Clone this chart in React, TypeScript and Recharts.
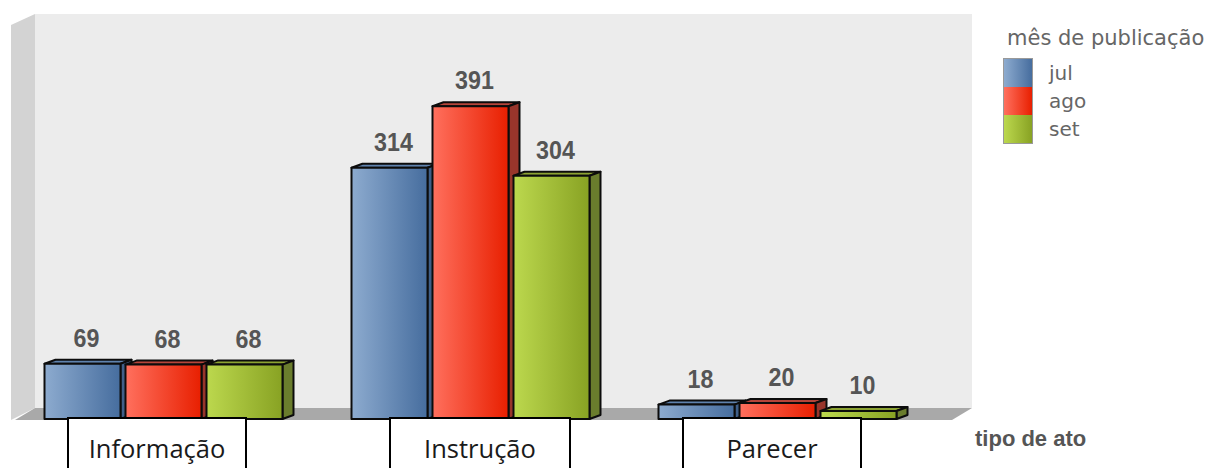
import { BarChart, Bar, XAxis, YAxis, LabelList, Legend } from 'recharts';

const categories = ['Informação', 'Instrução', 'Parecer'];
const jul = [69, 314, 18];
const ago = [68, 391, 20];
const set = [68, 304, 10];
const legendTitle = 'mês de publicação';
const axisTitle = 'tipo de ato';

const data = categories.map((name, i) => ({ name, jul: jul[i], ago: ago[i], set: set[i] }));

const colors: any = {
    jul: { light: '#8dabcf', dark: '#466d9e', side: '#3f5f88', top: '#5f82ad' },
    ago: { light: '#ff705e', dark: '#e81f00', side: '#98352b', top: '#b5453a' },
    set: { light: '#bcd84e', dark: '#88a223', side: '#6a7d2d', top: '#8ca332' },
};

// the boxes under the bars were pasted by hand, they are not centred on the groups
const tickBoxes: any = {
    'Informação': { dx: -6, width: 178 },
    'Instrução': { dx: 10, width: 180 },
    'Parecer': { dx: -5, width: 178 },
};

const DEPTH_X = 11;
const DEPTH_Y = 4;

const Bar3D = (props: any) => {
    const { x, y, width, height, dataKey } = props;
    const c = colors[dataKey];
    const r = x + width;
    const b = y + height;
    return (
        <g stroke="#0c0c0c" strokeWidth={2} strokeLinejoin="round">
            <polygon points={`${x},${y} ${x + DEPTH_X},${y - DEPTH_Y} ${r + DEPTH_X},${y - DEPTH_Y} ${r},${y}`} fill={c.top} />
            <polygon points={`${r},${y} ${r + DEPTH_X},${y - DEPTH_Y} ${r + DEPTH_X},${b - DEPTH_Y} ${r},${b}`} fill={c.side} />
            <rect x={x} y={y} width={width} height={height} fill={`url(#face-${dataKey})`} />
        </g>
    );
};

const BoxTick = ({ x, y, payload }: any) => {
    const box = tickBoxes[payload.value];
    const cx = x + box.dx;
    return (
        <g>
            <rect x={cx - box.width / 2} y={y - 1} width={box.width} height={70} fill="#fff" stroke="#000" strokeWidth={2} />
            <text x={cx} y={y + 39} textAnchor="middle" fontFamily="Open Sans" fontSize={25.5} fill="#1a1a1a">
                {payload.value}
            </text>
        </g>
    );
};

// narrow bold digits: no narrow font here, so squeeze the normal one
const ValueLabel = ({ x, y, width, value }: any) => (
    <text
        transform={`translate(${x + width / 2 + 4},${y - 17}) scale(0.93,1)`}
        textAnchor="middle"
        fontFamily="Liberation Sans"
        fontWeight="bold"
        fontSize={25}
        fill="#555"
    >
        {value}
    </text>
);

const LegendBox = ({ payload }: any) => (
    <div style={{ fontFamily: 'DejaVu Sans', fontSize: 20, color: '#666', width: 203 }}>
        <div style={{ marginLeft: 4, height: 33, lineHeight: '26px', fontSize: 21, whiteSpace: 'nowrap' }}>{legendTitle}</div>
        <div style={{ border: '1px solid #999', width: 28, boxSizing: 'content-box' }}>
            {(payload || []).map((p: any) => {
                const c = colors[p.dataKey];
                return (
                    <div key={p.dataKey} style={{ position: 'relative', height: 28, background: `linear-gradient(to right, ${c.light}, ${c.dark})` }}>
                        <span style={{ position: 'absolute', left: 45, top: 1, lineHeight: '26px' }}>{p.value}</span>
                    </div>
                );
            })}
        </div>
    </div>
);

export default function App() {
    return (
        <div style={{ position: 'absolute', left: 0, top: 0, width: 1206, height: 468, overflow: 'hidden', background: '#fff' }}>
            <svg width={1206} height={468} style={{ position: 'absolute', left: 0, top: 0 }}>
                <rect x={35} y={14} width={937} height={394} fill="#ececec" />
                <polygon points="11,25 35,14 35,408 11,420" fill="#d3d3d3" />
                <polygon points="35,408 972,408 952,420 15,420" fill="#a9a9a9" />
                <text x={975} y={446} fontFamily="Liberation Sans" fontWeight="bold" fontSize={22} fill="#555">
                    {axisTitle}
                </text>
            </svg>
            <div style={{ position: 'absolute', left: 0, top: 0 }}>
                <BarChart
                    width={1206}
                    height={468}
                    data={data}
                    margin={{ top: 99, right: 275.5, bottom: 0, left: 9.5 }}
                    barSize={76}
                    barGap={5}
                >
                    <defs>
                        {Object.keys(colors).map((k) => (
                            <linearGradient key={k} id={`face-${k}`} x1="0" y1="0" x2="1" y2="0">
                                <stop offset="0%" stopColor={colors[k].light} />
                                <stop offset="100%" stopColor={colors[k].dark} />
                            </linearGradient>
                        ))}
                    </defs>
                    <XAxis dataKey="name" axisLine={false} tickLine={false} height={49} tick={<BoxTick />} tickSize={0} tickMargin={0} interval={0} />
                    <YAxis hide domain={[0, 400]} />
                    <Legend
                        layout="vertical"
                        align="center"
                        verticalAlign="middle"
                        itemSorter={null}
                        content={<LegendBox />}
                        wrapperStyle={{ position: 'absolute', left: 1003, top: 25, width: 203 }}
                    />
                    {['jul', 'ago', 'set'].map((k) => (
                        <Bar key={k} dataKey={k} name={k} fill={colors[k].dark} shape={<Bar3D dataKey={k} />} isAnimationActive={false}>
                            <LabelList dataKey={k} content={<ValueLabel />} />
                        </Bar>
                    ))}
                </BarChart>
            </div>
        </div>
    );
}
